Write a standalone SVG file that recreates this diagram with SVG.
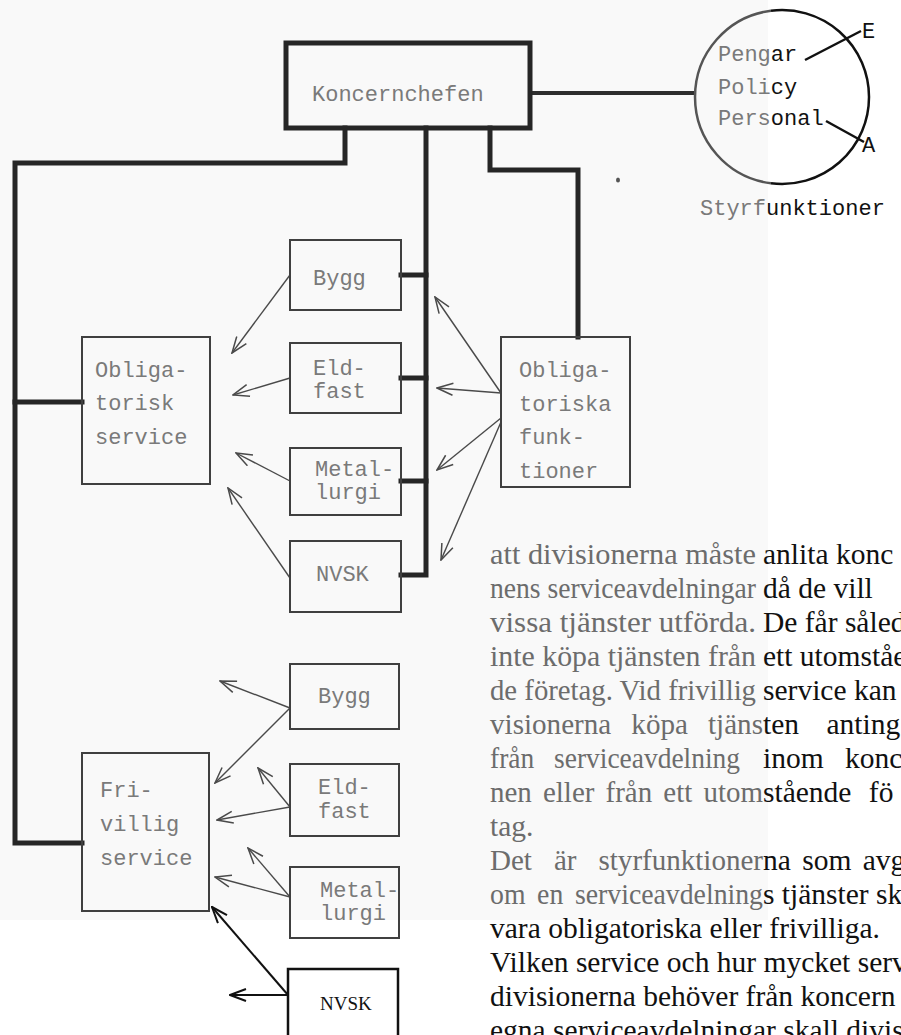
<svg xmlns="http://www.w3.org/2000/svg" width="901" height="1035" viewBox="0 0 901 1035">
  <style>
    .lbl { font-family: "Liberation Mono", "DejaVu Sans Mono", monospace; font-size: 22px; }
    .para { font-family: "Liberation Serif", "DejaVu Serif", serif; font-size: 29.5px; }
    .paraSoft { font-family: "Liberation Serif", "DejaVu Serif", serif; font-size: 29.5px; fill: #6c6c6c; }
    .soft { fill: #7a7a7a; }
    .ink { fill: #111; }
    .box { fill: none; stroke: #404040; stroke-width: 2; }
    .boxInk { fill: none; stroke: #111; stroke-width: 2.5; }
    .thick { fill: none; stroke: #262626; stroke-width: 5; stroke-linejoin: miter; stroke-linecap: square; }
    .arr { fill: none; stroke: #4a4a4a; stroke-width: 1.4; marker-end: url(#vhead); }
    .arrInk { fill: none; stroke: #111; stroke-width: 2; marker-end: url(#vheadInk); }
    .tie { fill: none; stroke: #111; stroke-width: 2.5; }
  </style>
  <defs>
    <marker id="vhead" viewBox="0 0 18 14" markerWidth="18" markerHeight="14" refX="17" refY="7" orient="auto" markerUnits="userSpaceOnUse">
      <path d="M1,1 L17,7 L1,13" fill="none" stroke="#4a4a4a" stroke-width="1.5"/>
    </marker>
    <marker id="vheadInk" viewBox="0 0 18 14" markerWidth="18" markerHeight="14" refX="17" refY="7" orient="auto" markerUnits="userSpaceOnUse">
      <path d="M1,1 L17,7 L1,13" fill="none" stroke="#111" stroke-width="2"/>
    </marker>
  </defs>

  <!-- paper -->
  <rect x="0" y="0" width="901" height="1035" fill="#ffffff"/>
  <rect x="0" y="0" width="768" height="920" fill="#f9f9f9"/>

  <!-- connectors -->
  <g id="connectors">
    <!-- head office to left spine and both service groups -->
    <path class="thick" d="M345,128 V163 H15 V843 H82"/>
    <path class="thick" d="M15,402 H82"/>
    <!-- central trunk to the divisions -->
    <path class="thick" d="M426,128 V575 H401"/>
    <path class="thick" d="M401,275 H426"/>
    <path class="thick" d="M401,378 H426"/>
    <path class="thick" d="M401,481 H426"/>
    <!-- to mandatory functions -->
    <path class="thick" d="M490,128 V170 H578 V337"/>
    <!-- to steering functions -->
    <path d="M530,93 H695" fill="none" stroke="#2e2e2e" stroke-width="4"/>

    <!-- divisions to mandatory service -->
    <line class="arr" x1="290" y1="275" x2="232" y2="353"/>
    <line class="arr" x1="290" y1="378" x2="233" y2="395"/>
    <line class="arr" x1="290" y1="481" x2="236" y2="453"/>
    <line class="arr" x1="290" y1="578" x2="228" y2="488"/>

    <!-- mandatory functions to divisions -->
    <line class="arr" x1="501" y1="393" x2="435" y2="297"/>
    <line class="arr" x1="501" y1="393" x2="437" y2="388"/>
    <line class="arr" x1="501" y1="418" x2="437" y2="470"/>
    <line class="arr" x1="501" y1="422" x2="441" y2="560"/>

    <!-- divisions to voluntary service / outside -->
    <line class="arr" x1="290" y1="708" x2="220" y2="681"/>
    <line class="arr" x1="290" y1="708" x2="215" y2="783"/>
    <line class="arr" x1="290" y1="807" x2="258" y2="768"/>
    <line class="arr" x1="290" y1="807" x2="217" y2="820"/>
    <line class="arr" x1="290" y1="897" x2="248" y2="848"/>
    <line class="arr" x1="290" y1="897" x2="215" y2="877"/>
    <line class="arrInk" x1="288" y1="995" x2="212" y2="907"/>
    <line class="arrInk" x1="288" y1="995" x2="230" y2="995"/>
  </g>

  <!-- head office -->
  <g id="koncernchefen">
    <rect x="286" y="43" width="244" height="85" fill="none" stroke="#262626" stroke-width="5"/>
    <text class="lbl soft" x="312" y="101">Koncernchefen</text>
  </g>

  <!-- steering functions -->
  <g id="styrfunktioner">
    <path d="M771,10.7 A87,87 0 0,0 771,183.3" fill="none" stroke="#555" stroke-width="2.5"/>
    <path d="M771,10.7 A87,87 0 1,1 771,183.3" fill="none" stroke="#111" stroke-width="2.5"/>
    <text class="lbl" x="718" y="61"><tspan class="soft">Peng</tspan><tspan class="ink">ar</tspan></text>
    <text class="lbl" x="718" y="94"><tspan class="soft">Poli</tspan><tspan class="ink">cy</tspan></text>
    <text class="lbl" x="718" y="125"><tspan class="soft">Pers</tspan><tspan class="ink">onal</tspan></text>
    <line class="tie" x1="805" y1="60" x2="861" y2="31"/>
    <line class="tie" x1="826" y1="121" x2="864" y2="142"/>
    <text class="lbl ink" x="862" y="38">E</text>
    <text class="lbl ink" x="862" y="152">A</text>
    <text class="lbl" x="700" y="215"><tspan class="soft">Styrf</tspan><tspan class="ink">unktioner</tspan></text>
    <ellipse cx="618" cy="180" rx="2" ry="2.5" fill="#555"/>
  </g>

  <!-- mandatory service -->
  <g id="obligatorisk-service">
    <rect class="box" x="82" y="337" width="128" height="147"/>
    <text class="lbl soft" x="95" y="377">Obliga-</text>
    <text class="lbl soft" x="95" y="410">torisk</text>
    <text class="lbl soft" x="95" y="444">service</text>
  </g>

  <g id="bygg-1">
    <rect class="box" x="290" y="240" width="111" height="70"/>
    <text class="lbl soft" x="313" y="285">Bygg</text>
  </g>
  <g id="eldfast-1">
    <rect class="box" x="290" y="343" width="111" height="70"/>
    <text class="lbl soft" x="313" y="375">Eld-</text>
    <text class="lbl soft" x="313" y="398">fast</text>
  </g>
  <g id="metallurgi-1">
    <rect class="box" x="290" y="448" width="111" height="67"/>
    <text class="lbl soft" x="315" y="476">Metal-</text>
    <text class="lbl soft" x="315" y="499">lurgi</text>
  </g>
  <g id="nvsk-1">
    <rect class="box" x="290" y="541" width="111" height="71"/>
    <text class="lbl soft" x="316" y="581">NVSK</text>
  </g>

  <!-- mandatory functions -->
  <g id="obligatoriska-funktioner">
    <rect class="box" x="501" y="337" width="129" height="150"/>
    <text class="lbl soft" x="519" y="377">Obliga-</text>
    <text class="lbl soft" x="519" y="411">toriska</text>
    <text class="lbl soft" x="519" y="444">funk-</text>
    <text class="lbl soft" x="519" y="478">tioner</text>
  </g>

  <!-- voluntary service -->
  <g id="frivillig-service">
    <rect class="box" x="82" y="753" width="127" height="158"/>
    <text class="lbl soft" x="100" y="797">Fri-</text>
    <text class="lbl soft" x="100" y="831">villig</text>
    <text class="lbl soft" x="100" y="865">service</text>
  </g>

  <g id="bygg-2">
    <rect class="box" x="290" y="664" width="109" height="65"/>
    <text class="lbl soft" x="318" y="703">Bygg</text>
  </g>
  <g id="eldfast-2">
    <rect class="box" x="290" y="764" width="109" height="72"/>
    <text class="lbl soft" x="318" y="794">Eld-</text>
    <text class="lbl soft" x="318" y="818">fast</text>
  </g>
  <g id="metallurgi-2">
    <rect class="box" x="290" y="867" width="109" height="71"/>
    <text class="lbl soft" x="320" y="897">Metal-</text>
    <text class="lbl soft" x="320" y="920">lurgi</text>
  </g>
  <g id="nvsk-2">
    <rect class="boxInk" x="288" y="969" width="110" height="80"/>
    <text x="320" y="1010" font-family="Liberation Serif, serif" font-size="19" fill="#111">NVSK</text>
  </g>

  <!-- running text beside the chart: lighter left part, darker right part -->
  <g id="brodtext">
    <text class="paraSoft" x="490" y="564" textLength="266" lengthAdjust="spacingAndGlyphs">att divisionerna måste</text>
    <text class="para ink" x="763" y="564">anlita konc</text>

    <text class="paraSoft" x="490" y="598" textLength="266" lengthAdjust="spacingAndGlyphs">nens serviceavdelningar</text>
    <text class="para ink" x="763" y="598">då de vill</text>

    <text class="paraSoft" x="490" y="632" textLength="266" lengthAdjust="spacingAndGlyphs">vissa tjänster utförda.</text>
    <text class="para ink" x="763" y="632">De får såled</text>

    <text class="paraSoft" x="490" y="666" textLength="266" lengthAdjust="spacingAndGlyphs">inte köpa tjänsten från</text>
    <text class="para ink" x="763" y="666">ett utomståe</text>

    <text class="paraSoft" x="490" y="700" textLength="266" lengthAdjust="spacingAndGlyphs">de företag. Vid frivillig</text>
    <text class="para ink" x="763" y="700">service kan</text>

    <text class="paraSoft" x="490" y="734" word-spacing="13" textLength="273" lengthAdjust="spacingAndGlyphs">visionerna köpa tjäns</text>
    <text class="para ink" x="763" y="734" word-spacing="20">ten anting</text>

    <text class="paraSoft" x="490" y="768" word-spacing="14" textLength="250" lengthAdjust="spacingAndGlyphs">från serviceavdelning</text>
    <text class="para ink" x="763" y="768" word-spacing="14">inom konc</text>

    <text class="paraSoft" x="490" y="802" word-spacing="4" textLength="273" lengthAdjust="spacingAndGlyphs">nen eller från ett utom</text>
    <text class="para ink" x="763" y="802" word-spacing="10">stående fö</text>

    <text class="paraSoft" x="490" y="836">tag.</text>

    <text class="paraSoft" x="490" y="870" word-spacing="15" textLength="273" lengthAdjust="spacingAndGlyphs">Det är styrfunktioner</text>
    <text class="para ink" x="763" y="870" word-spacing="4">na som avg</text>

    <text class="paraSoft" x="490" y="904" word-spacing="5" textLength="273" lengthAdjust="spacingAndGlyphs">om en serviceavdelning</text>
    <text class="para ink" x="763" y="904">s tjänster sk</text>

    <text class="para ink" x="490" y="938">vara obligatoriska eller frivilliga.</text>
    <text class="para ink" x="490" y="972">Vilken service och hur mycket serv</text>
    <text class="para ink" x="490" y="1006">divisionerna behöver från koncern</text>
    <text class="para ink" x="490" y="1040">egna serviceavdelningar skall divis</text>
  </g>
</svg>
